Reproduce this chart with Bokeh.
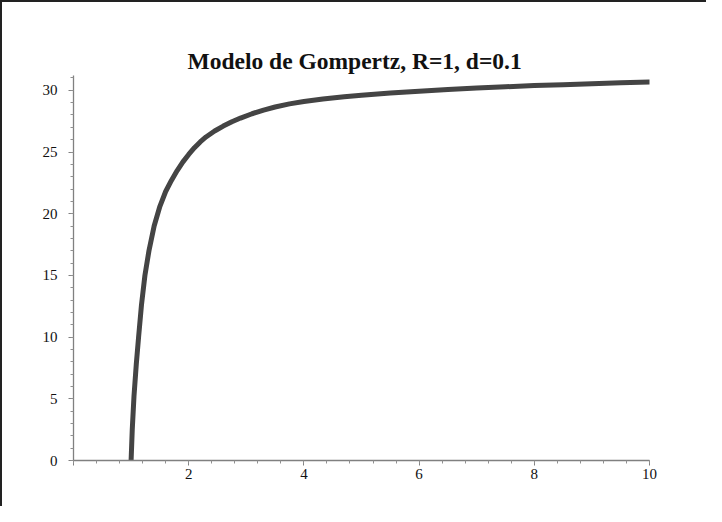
from bokeh.plotting import figure
from bokeh.models import Range1d, FixedTicker, Title
from bokeh.embed import file_html
from bokeh.resources import INLINE

# Values
t_values = [1.00, 1.02, 1.05, 1.09, 1.13, 1.18, 1.24, 1.31, 1.40, 1.50, 1.60, 1.70,
            1.80, 1.90, 2.00, 2.10, 2.20, 2.30, 2.45, 2.60, 2.75, 2.90, 3.10, 3.30,
            3.50, 3.75, 4.00, 4.33, 4.70, 5.00, 5.50, 6.00, 6.50, 7.00, 7.50, 8.00,
            8.50, 9.00, 9.50, 10.00]
n_values = [0.0, 2.5, 5.2, 7.8, 10.0, 12.6, 15.0, 17.0, 19.0, 20.6, 21.8, 22.7,
            23.5, 24.2, 24.8, 25.35, 25.82, 26.22, 26.7, 27.1, 27.45, 27.75, 28.1, 28.4,
            28.65, 28.9, 29.1, 29.3, 29.48, 29.6, 29.78, 29.93, 30.06, 30.18, 30.29, 30.38,
            30.46, 30.54, 30.61, 30.68]
x_ticks = [0, 2, 4, 6, 8, 10]
y_ticks = [0, 5, 10, 15, 20, 25, 30]
title_text = "Modelo de Gompertz, R=1, d=0.1"

FONT = "Liberation Serif"

p = figure(width=706, height=506, output_backend="svg", toolbar_location=None,
           x_range=Range1d(0, 10), y_range=Range1d(0, 31.2),
           min_border_left=71, min_border_right=59, min_border_top=73, min_border_bottom=48)
p.styles = {"border-left": "2px solid #222", "border-top": "2px solid #222"}
p.outline_line_color = None
p.grid.visible = False
p.background_fill_color = "white"
p.border_fill_color = "white"

p.title = Title(text=title_text, text_font=FONT, text_font_size="23.5px",
                text_font_style="bold", text_color="#111", align="left",
                standoff=4, offset=114)

for ax in (p.xaxis[0], p.yaxis[0]):
    ax.axis_line_color = "#808080"
    ax.axis_line_width = 1.3
    ax.major_tick_line_color = "#808080"
    ax.minor_tick_line_color = "#909090"
    ax.major_tick_in = 0
    ax.major_tick_out = 5
    ax.minor_tick_in = 0
    ax.minor_tick_out = 3
    ax.major_label_text_font = FONT
    ax.major_label_text_font_size = "15px"
    ax.major_label_text_color = "#111"

p.xaxis.ticker = FixedTicker(ticks=x_ticks, minor_ticks=[i * 0.4 for i in range(26)])
p.yaxis.ticker = FixedTicker(ticks=y_ticks, minor_ticks=list(range(0, 32)))
p.xaxis.major_label_overrides = {0: ""}
p.xaxis.major_label_standoff = 3
p.yaxis.major_label_standoff = 11

p.line(t_values, n_values, line_color="#444444", line_width=5, line_cap="round",
       line_join="round")

open("out.html", "w").write(file_html(p, INLINE))
